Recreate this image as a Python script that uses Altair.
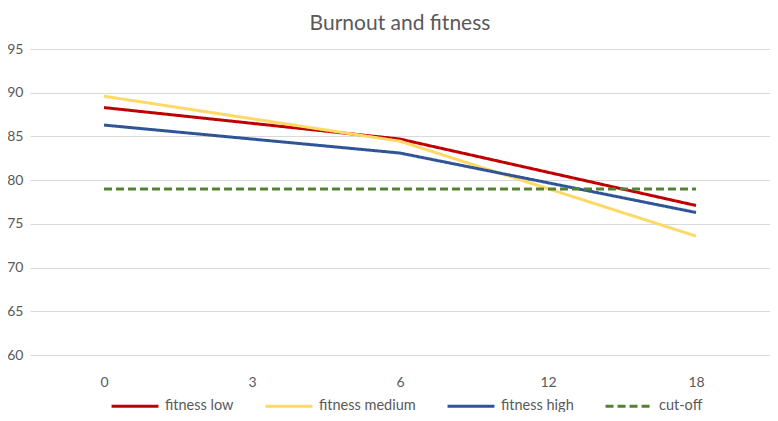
import altair as alt
import pandas as pd

months = [0, 3, 6, 12, 18]
series = ["fitness low", "fitness medium", "fitness high", "cut-off"]
colors = ["#C00000", "#FFD966", "#2F5597", "#548235"]
dashes = [[1, 0], [1, 0], [1, 0], [8, 4]]

fit_months = [0, 6, 18]
low = [88.3, 84.7, 77.1]
medium = [89.6, 84.45, 73.6]
high = [86.3, 83.1, 76.3]
cutoff_months = [0, 18]
cutoff = [79.0, 79.0]
y_ticks = [60, 65, 70, 75, 80, 85, 90, 95]

rows = []
for name, vals in [("fitness low", low), ("fitness medium", medium), ("fitness high", high)]:
    for m, v in zip(fit_months, vals):
        rows.append({"month": m, "value": v, "series": name})
for m, v in zip(cutoff_months, cutoff):
    rows.append({"month": m, "value": v, "series": "cut-off"})
df = pd.DataFrame(rows)

FONT = "Lato"
GREY = "#595959"

legend = alt.Legend(
    title=None, orient="none", direction="horizontal", legendX=80, legendY=332,
    symbolType="stroke", symbolSize=2200, symbolStrokeWidth=3,
    labelFontSize=14.5, labelColor=GREY, labelFont=FONT, columnPadding=25,
    labelOffset=5,
)

chart = alt.Chart(df).mark_line(strokeWidth=3).encode(
    x=alt.X("month:O", scale=alt.Scale(domain=months),
            axis=alt.Axis(title=None, labelAngle=0, grid=False, domain=False, ticks=False,
                          labelPadding=20, labelFontSize=14, labelColor=GREY, labelFont=FONT)),
    y=alt.Y("value:Q", scale=alt.Scale(domain=[60, 95], nice=False, zero=False),
            axis=alt.Axis(title=None, values=y_ticks, domain=False, ticks=False,
                          labelPadding=7, labelFontSize=14, labelColor=GREY, labelFont=FONT,
                          gridColor="#d9d9d9", gridWidth=1)),
    color=alt.Color("series:N", scale=alt.Scale(domain=series, range=colors), legend=legend),
    strokeDash=alt.StrokeDash("series:N", scale=alt.Scale(domain=series, range=dashes), legend=legend),
).properties(
    width=740, height=306,
    autosize=alt.AutoSizeParams(type="none"),
    padding={"left": 22, "top": 41, "right": 0, "bottom": 57},
    title=alt.Title("Burnout and fitness", fontSize=21, color=GREY, font=FONT,
                    fontWeight="normal", offset=8, anchor="middle"),
).configure_view(stroke=None)

chart.save("out.html", embed_options={"renderer": "svg", "actions": False})
